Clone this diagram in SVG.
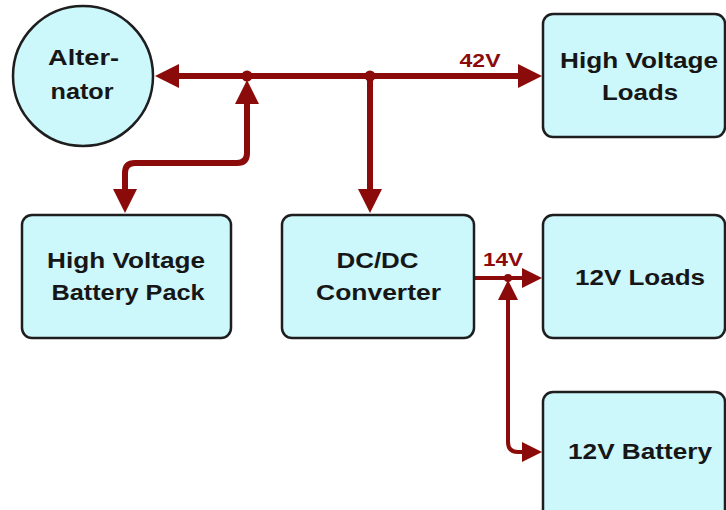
<svg xmlns="http://www.w3.org/2000/svg" width="726" height="510" viewBox="0 0 726 510">
<style>
.box{fill:#ccf7fb;stroke:#1e1e1e;stroke-width:2.5}
.t{font-family:"Liberation Sans",Arial,sans-serif;font-weight:bold;font-size:22px;fill:#161616;text-anchor:middle}
.lbl{font-family:"Liberation Sans",Arial,sans-serif;font-weight:bold;font-size:18.5px;fill:#8b0a0a;text-anchor:middle}
.w{fill:none;stroke:#8b0a0a;stroke-width:6;stroke-linejoin:round}
.n{fill:none;stroke:#8b0a0a;stroke-width:4;stroke-linejoin:round}
.dot{fill:#8b0a0a}
</style>
<defs>
<marker id="ah" markerUnits="userSpaceOnUse" markerWidth="24" markerHeight="24" refX="4" refY="12" orient="auto-start-reverse" viewBox="0 0 24 24">
<path d="M0,0 L24,12 L0,24 z" fill="#8b0a0a"/>
</marker>
<marker id="as" markerUnits="userSpaceOnUse" markerWidth="20" markerHeight="20" refX="3" refY="10" orient="auto-start-reverse" viewBox="0 0 20 20">
<path d="M0,0 L20,10 L0,20 z" fill="#8b0a0a"/>
</marker>
</defs>
<rect width="726" height="510" fill="#ffffff"/>
<g id="connectors">
<path class="w" d="M175,76 H522" marker-start="url(#ah)" marker-end="url(#ah)"/>
<path class="w" d="M247,100 V153 Q247,163 237,163 H135 Q125,163 125,173 V193" marker-start="url(#ah)" marker-end="url(#ah)"/>
<path class="w" d="M370,76 V193" marker-end="url(#ah)"/>
<circle class="dot" cx="247" cy="76" r="5.5"/>
<circle class="dot" cx="370" cy="76" r="5.5"/>
<path class="n" d="M474,278 H525" marker-end="url(#as)"/>
<path class="n" d="M508,297 V442 Q508,452 518,452 H525" marker-start="url(#as)" marker-end="url(#as)"/>
<circle class="dot" cx="508" cy="278" r="4"/>
<text class="lbl" transform="translate(480,67) scale(1.18,1)" textLength="34.7" lengthAdjust="spacingAndGlyphs">42V</text>
<text class="lbl" transform="translate(503,266) scale(1.18,1)" textLength="33.9" lengthAdjust="spacingAndGlyphs">14V</text>
</g>
<g id="alternator">
<circle class="box" cx="83" cy="76" r="70"/>
<text class="t" transform="translate(83.5,65) scale(1.18,1)" textLength="60.2" lengthAdjust="spacingAndGlyphs">Alter-</text>
<text class="t" transform="translate(82,99) scale(1.18,1)" textLength="53.4" lengthAdjust="spacingAndGlyphs">nator</text>
</g>
<g id="hv-loads">
<rect class="box" x="543" y="14" width="182" height="123" rx="10"/>
<text class="t" transform="translate(639,68) scale(1.18,1)" textLength="133.9" lengthAdjust="spacingAndGlyphs">High Voltage</text>
<text class="t" transform="translate(640,100) scale(1.18,1)" textLength="64.4" lengthAdjust="spacingAndGlyphs">Loads</text>
</g>
<g id="hv-battery">
<rect class="box" x="22" y="215" width="209" height="123" rx="10"/>
<text class="t" transform="translate(126,268) scale(1.18,1)" textLength="133.9" lengthAdjust="spacingAndGlyphs">High Voltage</text>
<text class="t" transform="translate(128,300) scale(1.18,1)" textLength="129.7" lengthAdjust="spacingAndGlyphs">Battery Pack</text>
</g>
<g id="dcdc">
<rect class="box" x="282" y="215" width="192" height="123" rx="10"/>
<text class="t" transform="translate(377.5,268) scale(1.18,1)" textLength="69.5" lengthAdjust="spacingAndGlyphs">DC/DC</text>
<text class="t" transform="translate(378.5,300) scale(1.18,1)" textLength="105.9" lengthAdjust="spacingAndGlyphs">Converter</text>
</g>
<g id="loads-12v">
<rect class="box" x="543" y="215" width="182" height="123" rx="10"/>
<text class="t" transform="translate(640,285) scale(1.18,1)" textLength="110.2" lengthAdjust="spacingAndGlyphs">12V Loads</text>
</g>
<g id="battery-12v">
<rect class="box" x="543" y="392" width="182" height="130" rx="10"/>
<text class="t" transform="translate(640,459) scale(1.18,1)" textLength="122" lengthAdjust="spacingAndGlyphs">12V Battery</text>
</g>
</svg>
